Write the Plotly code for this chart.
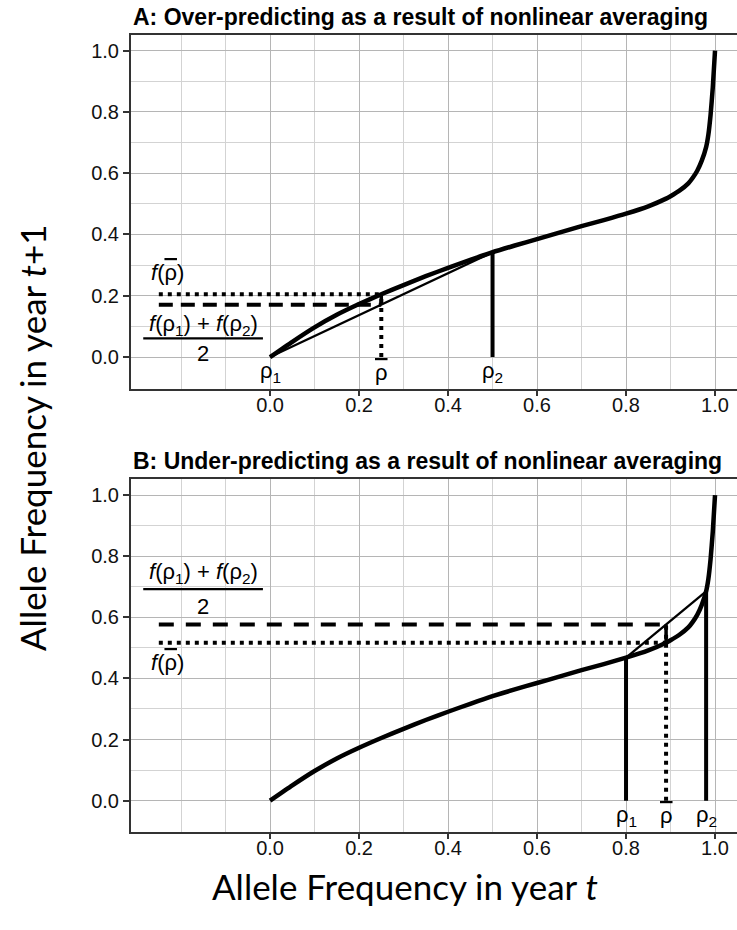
import plotly.graph_objects as go

# ---- data ----
freq_t = [0.0, 0.05, 0.10, 0.15, 0.20, 0.25, 0.30, 0.35, 0.40, 0.45, 0.50, 0.55, 0.60,
          0.65, 0.70, 0.75, 0.80, 0.85, 0.89, 0.90, 0.92, 0.94, 0.95, 0.96, 0.97, 0.98,
          0.985, 0.99, 0.995, 1.0]
freq_t1 = [0.0, 0.050, 0.097, 0.138, 0.173, 0.205, 0.235, 0.264, 0.291, 0.317, 0.342,
           0.364, 0.385, 0.406, 0.427, 0.447, 0.468, 0.492, 0.517, 0.525, 0.543, 0.567,
           0.585, 0.608, 0.640, 0.685, 0.725, 0.790, 0.880, 1.0]

panel_titles = ["A: Over-predicting as a result of nonlinear averaging",
                "B: Under-predicting as a result of nonlinear averaging"]
rho1 = [0.0, 0.80]
rho2 = [0.50, 0.98]
rhobar = [0.25, 0.89]
f_rho1 = [0.0, 0.468]
f_rho2 = [0.342, 0.685]
f_rhobar = [0.205, 0.517]
guide_start = -0.25

x_ticks = [0.0, 0.2, 0.4, 0.6, 0.8, 1.0]
y_ticks = [0.0, 0.2, 0.4, 0.6, 0.8, 1.0]
x_minor = [-0.2, -0.1, 0.1, 0.3, 0.5, 0.7, 0.9]
y_minor = [0.1, 0.3, 0.5, 0.7, 0.9]

# label placement (data coords) per panel
frac_num_y = [0.104, 0.744]
frac_bar_y = [0.061, 0.692]
frac_den_y = [0.012, 0.635]
fbar_lab_y = [0.275, 0.452]
label_x = -0.15
fbar_lab_x = -0.23
rho_lab_y = -0.05

BLACK = "#000000"
AX = "#333333"
FONT = "Liberation Sans, Arial, sans-serif"
RHOBAR = '<span style="text-decoration:overline">ρ</span>'

fig = go.Figure()
axes = [("x", "y"), ("x2", "y2")]
dash_patterns = ["14px,8px", "15px,12px"]

for i, (xa, ya) in enumerate(axes):
    mean_f = (f_rho1[i] + f_rho2[i]) / 2
    common = dict(xaxis=xa, yaxis=ya, mode="lines", hoverinfo="skip", showlegend=False)
    # chord
    fig.add_trace(go.Scatter(x=[rho1[i], rho2[i]], y=[f_rho1[i], f_rho2[i]],
                             line=dict(color=BLACK, width=2.3), **common))
    # curve
    fig.add_trace(go.Scatter(x=freq_t, y=freq_t1,
                             line=dict(color=BLACK, width=4.5, shape="spline", smoothing=0.5),
                             **common))
    # vertical lines at rho1 and rho2
    for r, fr in ((rho1[i], f_rho1[i]), (rho2[i], f_rho2[i])):
        fig.add_trace(go.Scatter(x=[r, r], y=[0, fr], line=dict(color=BLACK, width=4), **common))
    # dotted vertical at rho-bar
    top = max(mean_f, f_rhobar[i])
    fig.add_trace(go.Scatter(x=[rhobar[i], rhobar[i]], y=[0, top],
                             line=dict(color=BLACK, width=4, dash="4px,5px"), **common))
    # solid gap segment at rho-bar
    fig.add_trace(go.Scatter(x=[rhobar[i], rhobar[i]], y=[mean_f, f_rhobar[i]],
                             line=dict(color=BLACK, width=3.5), **common))
    # horizontal dashed (mean of f) and dotted (f of mean)
    fig.add_trace(go.Scatter(x=[guide_start, rhobar[i]], y=[mean_f, mean_f],
                             line=dict(color=BLACK, width=4, dash=dash_patterns[i]), **common))
    fig.add_trace(go.Scatter(x=[guide_start, rhobar[i]], y=[f_rhobar[i], f_rhobar[i]],
                             line=dict(color=BLACK, width=4, dash="4px,5px"), **common))

    # labels
    for xv, txt in ((rho1[i], "ρ<sub>1</sub>"), (rhobar[i], RHOBAR), (rho2[i], "ρ<sub>2</sub>")):
        fig.add_annotation(x=xv, y=rho_lab_y, xref=xa, yref=ya, text=txt, showarrow=False,
                           xanchor="center", yanchor="middle",
                           font=dict(family=FONT, size=22, color=BLACK))
    fig.add_annotation(x=fbar_lab_x, y=fbar_lab_y[i], xref=xa, yref=ya,
                       text="<i>f</i>(" + RHOBAR + ")", showarrow=False,
                       xanchor="center", yanchor="middle",
                       font=dict(family=FONT, size=22, color=BLACK))
    fig.add_annotation(x=label_x, y=frac_num_y[i], xref=xa, yref=ya,
                       text="<i>f</i>(ρ<sub>1</sub>) + <i>f</i>(ρ<sub>2</sub>)", showarrow=False,
                       xanchor="center", yanchor="middle",
                       font=dict(family=FONT, size=22, color=BLACK))
    fig.add_annotation(x=label_x, y=frac_den_y[i], xref=xa, yref=ya,
                       text="2", showarrow=False, xanchor="center", yanchor="middle",
                       font=dict(family=FONT, size=22, color=BLACK))
    fig.add_shape(type="line", xref=xa, yref=ya, x0=-0.285, x1=-0.016,
                  y0=frac_bar_y[i], y1=frac_bar_y[i], line=dict(color=BLACK, width=2.2))

# titles
title_y = [1 - 17 / 930, 1 - 461 / 930]
for t, yv in zip(panel_titles, title_y):
    fig.add_annotation(x=0, y=yv, xref="paper", yref="paper", xanchor="left", yanchor="middle",
                       text="<b>" + t + "</b>", showarrow=False,
                       font=dict(family=FONT, size=23, color=BLACK))

# axis titles
fig.add_annotation(x=(405 - 131) / 606, y=1 - 886 / 930, xref="paper", yref="paper",
                   xanchor="center", yanchor="middle",
                   text="Allele Frequency in year <i>t</i>", showarrow=False,
                   font=dict(family="Lato, sans-serif", size=35, color=BLACK))
fig.add_annotation(x=(32 - 131) / 606, y=1 - 438 / 930, xref="paper", yref="paper",
                   xanchor="center", yanchor="middle",
                   text="Allele Frequency in year <i>t</i>+1", showarrow=False, textangle=-90,
                   font=dict(family="Lato, sans-serif", size=35, color=BLACK))

xaxis_style = dict(range=[-0.3125, 1.0494], tickmode="array", tickvals=x_ticks,
                   tickformat=".1f", showgrid=True, gridcolor="#b5b5b5", gridwidth=1.3,
                   zeroline=False, showline=True, linecolor=AX, linewidth=2, mirror=True,
                   ticks="outside", ticklen=5, tickwidth=1.5, tickcolor=AX,
                   ticklabelstandoff=-8,
                   tickfont=dict(family=FONT, size=20, color="#111111"),
                   minor=dict(tickmode="array", tickvals=x_minor, showgrid=True,
                              gridcolor="#d3d3d3", gridwidth=1, ticks=""),
                   automargin=False, fixedrange=True)
yaxis_style = dict(range=[-0.1025, 1.0525], tickmode="array", tickvals=y_ticks,
                   tickformat=".1f", showgrid=True, gridcolor="#b5b5b5", gridwidth=1.3,
                   zeroline=False, showline=True, linecolor=AX, linewidth=2, mirror=False,
                   ticks="outside", ticklen=6, tickwidth=1.5, tickcolor=AX,
                   tickfont=dict(family=FONT, size=20, color="#111111"),
                   minor=dict(tickmode="array", tickvals=y_minor, showgrid=True,
                              gridcolor="#d3d3d3", gridwidth=1, ticks=""),
                   automargin=False, fixedrange=True)

fig.update_layout(
    width=737, height=930,
    margin=dict(l=131, r=0, t=0, b=0),
    paper_bgcolor="white", plot_bgcolor="white",
    showlegend=False, hovermode=False,
    xaxis=dict(domain=[0, 1], anchor="y", **xaxis_style),
    yaxis=dict(domain=[1 - 388.5 / 930, 1 - 34.5 / 930], anchor="x", **yaxis_style),
    xaxis2=dict(domain=[0, 1], anchor="y2", **xaxis_style),
    yaxis2=dict(domain=[1 - 832 / 930, 1 - 479 / 930], anchor="x2", **yaxis_style),
)

fig.write_html("out.html", config={"displayModeBar": False})
